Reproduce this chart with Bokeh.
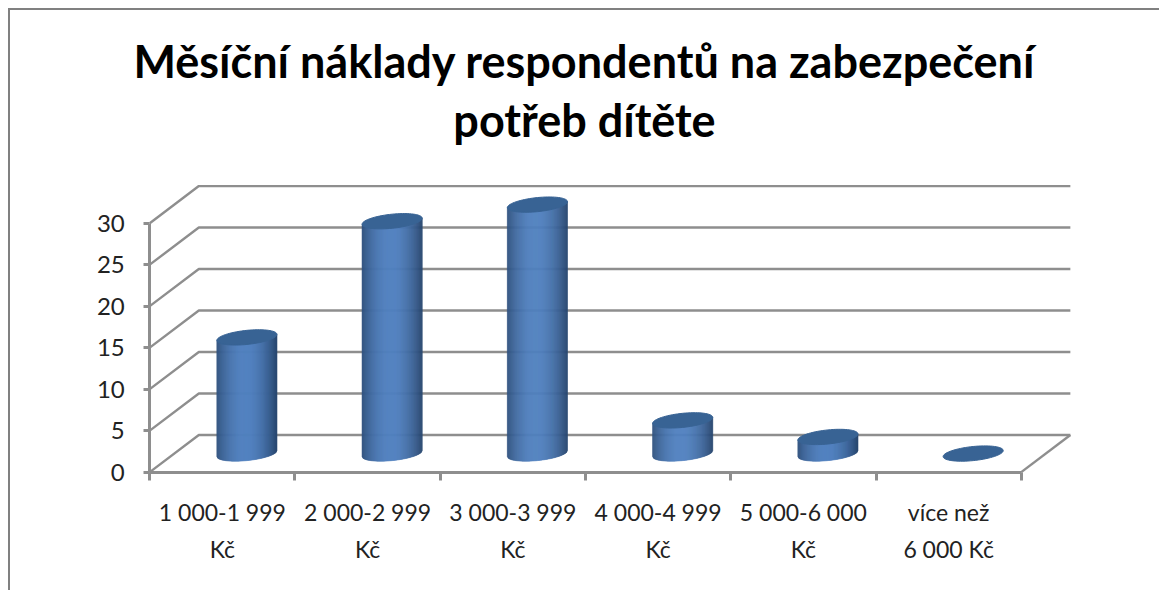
import math
from bokeh.plotting import figure
from bokeh.models import Range1d, LinearAxis, FixedTicker, Label
from bokeh.embed import file_html
from bokeh.resources import INLINE

categories = ["1 000-1 999\nKč", "2 000-2 999\nKč", "3 000-3 999\nKč",
              "4 000-4 999\nKč", "5 000-6 000\nKč", "více než\n6 000 Kč"]
values = [14, 28, 30, 4, 2, 0]
y_ticks = [0, 5, 10, 15, 20, 25, 30]
title_lines = ["Měsíční náklady respondentů na zabezpečení", "potřeb dítěte"]

GRID = "#8e8e8e"
DEPTH_X, DEPTH_Y = 0.338, 4.47
HALF_W = 0.207
ELL_B, ELL_S = 0.85, 0.36
N = len(categories)

p = figure(width=1149, height=580, output_backend="svg", toolbar_location=None,
           x_range=Range1d(-0.9586, 6.9655), y_range=Range1d(-14.51, 55.63),
           x_axis_type=None, y_axis_type=None,
           min_border_left=0, min_border_right=0, min_border_top=0, min_border_bottom=0)
p.outline_line_color = None
p.grid.visible = False
p.styles = {"margin-left": "8px", "margin-top": "8px",
            "border-top": "2px solid #808080", "border-left": "2px solid #808080",
            "box-sizing": "content-box"}

# wall and floor lines
xs, ys = [], []
for v in y_ticks:
    xs.append([0, DEPTH_X, N + DEPTH_X])
    ys.append([v, v + DEPTH_Y, v + DEPTH_Y])
xs.append([N, N + DEPTH_X])
ys.append([0, DEPTH_Y])
p.multi_line(xs, ys, line_color=GRID, line_width=2.4)

yax = LinearAxis(ticker=FixedTicker(ticks=y_ticks), bounds=(0, 30), fixed_location=0)
yax.axis_line_color = GRID
yax.axis_line_width = 3
yax.major_tick_line_color = GRID
yax.major_tick_line_width = 3
yax.major_tick_in = 0
yax.major_tick_out = 6
yax.minor_tick_line_color = None
yax.major_label_standoff = 19
yax.major_label_text_font = "Lato"
yax.major_label_text_font_size = "24px"
yax.major_label_text_color = "#222222"
p.add_layout(yax, "left")

centers = [i + 0.5 for i in range(N)]
xax = LinearAxis(ticker=FixedTicker(ticks=centers, minor_ticks=list(range(N + 1))), bounds=(0, N), fixed_location=0)
xax.major_label_overrides = dict(zip(centers, categories))
xax.axis_line_color = GRID
xax.axis_line_width = 3
xax.major_tick_line_color = None
xax.minor_tick_line_color = GRID
xax.minor_tick_line_width = 3
xax.minor_tick_in = 0
xax.minor_tick_out = 8
xax.major_label_standoff = 18
xax.major_label_text_font = "Lato"
xax.major_label_text_font_size = "23px"
xax.major_label_text_color = "#222222"
xax.major_label_text_line_height = 1.31
p.add_layout(xax, "below")


def shade(u):
    # u in [-1, 1] across the cylinder
    t = 1 - abs(u + 0.05) ** 2.0
    dark, light = (44, 76, 118), (81, 129, 192)
    return "#%02x%02x%02x" % tuple(round(d + (l - d) * t) for d, l in zip(dark, light))


sx, sy, sc = [], [], []
tx, ty = [], []
for i, v in enumerate(values):
    cx = i + 0.5 + DEPTH_X / 2
    base = DEPTH_Y / 2
    steps = 60
    if v > 0:
        for k in range(steps):
            u0, u1 = -1 + 2 * k / steps, -1 + 2 * (k + 1) / steps
            x0, x1 = cx + HALF_W * u0, cx + HALF_W * u1
            low0 = base + ELL_S * u0 - ELL_B * math.sqrt(max(0, 1 - u0 * u0))
            low1 = base + ELL_S * u1 - ELL_B * math.sqrt(max(0, 1 - u1 * u1))
            top0 = base + v + ELL_S * u0
            top1 = base + v + ELL_S * u1
            sx.append([x0, x1, x1, x0])
            sy.append([low0, low1, top1, top0])
            sc.append(shade((u0 + u1) / 2))
    ang = [2 * math.pi * a / 72 for a in range(72)]
    tx.append([cx + HALF_W * math.cos(a) for a in ang])
    ty.append([base + v + ELL_S * math.cos(a) + ELL_B * math.sin(a) for a in ang])

p.patches(sx, sy, fill_color=sc, line_color=sc, line_width=0.6)
p.patches(tx, ty, fill_color="#386394", line_color="#386394", line_width=1)

for line, ypos in zip(title_lines, [49.6, 42.4]):
    p.add_layout(Label(x=2.993, y=ypos, text=line, text_align="center", text_baseline="middle",
                       text_font="Lato", text_font_style="bold", text_font_size="45px",
                       text_color="#000000"))

open("out.html", "w").write(file_html(p, INLINE))
